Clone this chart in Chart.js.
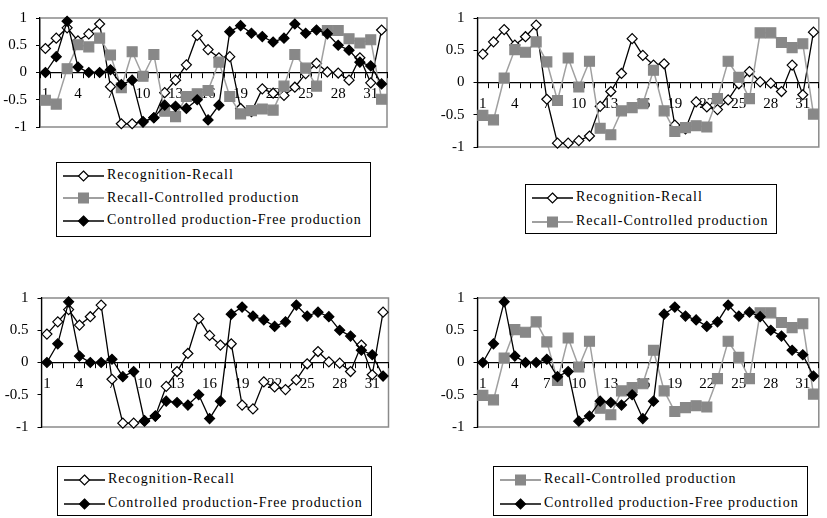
<!DOCTYPE html>
<html>
<head>
<meta charset="utf-8">
<script src="https://cdn.jsdelivr.net/npm/chart.js@4.4.0/dist/chart.umd.min.js"></script>
<style>
  body { margin: 0; background: #fff; width: 827px; height: 518px; position: relative; overflow: hidden; font-family: "Liberation Serif", "Times New Roman", serif; }
  .panel { position: absolute; }
  .legend { position: absolute; border: 1px solid #000; background: #fff; font-size: 14px; letter-spacing: 1px; padding: 0 8px 0 0; }
  .legend .row { white-space: nowrap; }
  .legend svg { vertical-align: middle; margin-right: 2px; }
</style>
</head>
<body>
<div class="panel" style="left:0;top:0;width:400px;height:145px"><canvas id="chartTL"></canvas></div>
<div class="panel" style="left:430px;top:0;width:397px;height:165px"><canvas id="chartTR"></canvas></div>
<div class="panel" style="left:0;top:280px;width:400px;height:165px"><canvas id="chartBL"></canvas></div>
<div class="panel" style="left:430px;top:280px;width:397px;height:165px"><canvas id="chartBR"></canvas></div>

<div class="legend" id="legTL" style="left:56px;top:162px;padding-top:1px;padding-bottom:4px"></div>
<div class="legend" id="legTR" style="left:525px;top:184px"></div>
<div class="legend" id="legBL" style="left:57px;top:466px"></div>
<div class="legend" id="legBR" style="left:493px;top:466px"></div>

<script>
// categories 1..32, only every third one is labelled
const categories = [
  "1", "2", "3", "4", "5", "6", "7", "8", "9", "10", "11", "12", "13", "14", "15", "16",
  "17", "18", "19", "20", "21", "22", "23", "24", "25", "26", "27", "28", "29", "30", "31", "32",
];
const yTicks = [-1, -0.5, 0, 0.5, 1];

// series values
const recogRecall = [
  0.44, 0.63, 0.82, 0.58, 0.71, 0.89, -0.26, -0.94, -0.94, -0.90, -0.83, -0.37, -0.14, 0.14, 0.68, 0.42,
  0.27, 0.29, -0.66, -0.72, -0.30, -0.38, -0.42, -0.27, -0.02, 0.17, 0.01, -0.01, -0.14, 0.27, -0.19, 0.78,
];
const recallControlled = [
  -0.51, -0.58, 0.07, 0.51, 0.47, 0.63, 0.32, -0.28, 0.38, -0.07, 0.33, -0.71, -0.81, -0.44, -0.39, -0.33,
  0.19, -0.44, -0.76, -0.70, -0.67, -0.69, -0.25, 0.33, 0.08, -0.25, 0.77, 0.77, 0.62, 0.54, 0.60, -0.49,
];
const controlledFree = [
  0.00, 0.29, 0.94, 0.10, 0.00, 0.00, 0.05, -0.22, -0.14, -0.91, -0.83, -0.60, -0.62, -0.66, -0.50, -0.87,
  -0.60, 0.75, 0.86, 0.72, 0.66, 0.56, 0.63, 0.89, 0.72, 0.78, 0.71, 0.50, 0.41, 0.19, 0.12, -0.21,
];

Chart.defaults.font.family = '"Liberation Serif", "Times New Roman", serif';
Chart.defaults.font.size = 15;
Chart.defaults.color = "#000";

// series look (used by the charts and by the html legends)
const series = {
  recog: {
    label: "Recognition-Recall", data: recogRecall, line: "#000", lineWidth: 1.3,
    style: "rectRot", radius: 5, fill: "#fff", stroke: "#000", order: 3,
  },
  recall: {
    label: "Recall-Controlled production", data: recallControlled, line: "#a0a0a0", lineWidth: 1.5,
    style: "rect", radius: 7, fill: "#888888", stroke: "#888888", order: 2,
  },
  free: {
    label: "Controlled production-Free production", data: controlledFree, line: "#000", lineWidth: 1.3,
    style: "rectRot", radius: 5, fill: "#000", stroke: "#000", order: 1,
  },
};

// gray frame round the plot area, drawn before the axes
const plotBorder = {
  id: "plotBorder",
  beforeDraw(chart) {
    const { ctx, chartArea: a } = chart;
    ctx.save();
    ctx.strokeStyle = "#8a8a8a";
    ctx.lineWidth = 1.5;
    ctx.strokeRect(a.left, a.top, a.right - a.left, a.bottom - a.top);
    ctx.restore();
  },
};

function makeChart(id, keys, yWidth, padding) {
  const datasets = keys.map((k) => {
    const s = series[k];
    return {
      label: s.label,
      data: s.data,
      borderColor: s.line,
      borderWidth: s.lineWidth,
      pointStyle: s.style,
      pointRadius: s.radius,
      pointHoverRadius: s.radius,
      pointBackgroundColor: s.fill,
      pointBorderColor: s.stroke,
      pointBorderWidth: 1.2,
      tension: 0,
      clip: false,
      order: s.order,
    };
  });

  return new Chart(document.getElementById(id), {
    type: "line",
    data: { labels: categories, datasets: datasets },
    options: {
      responsive: true,
      maintainAspectRatio: false,
      animation: false,
      layout: { padding: padding },
      plugins: { legend: { display: false }, tooltip: { enabled: false } },
      scales: {
        x: {
          type: "category",
          position: { y: 0 },
          offset: true,
          grid: { offset: true, drawOnChartArea: false, tickLength: 5, color: "#000", lineWidth: 1 },
          border: { color: "#000", width: 1.2 },
          ticks: {
            autoSkip: false,
            maxRotation: 0,
            padding: 8,
            callback: (v, i) => (i % 3 === 0 ? categories[i] : ""),
          },
        },
        y: {
          min: -1,
          max: 1,
          afterFit: (scale) => { scale.width = yWidth; },
          afterBuildTicks: (scale) => { scale.ticks = yTicks.map((v) => ({ value: v })); },
          grid: { drawOnChartArea: false, tickLength: 4, color: "#000" },
          border: { color: "#000", width: 1.2 },
          ticks: { padding: 9, callback: (v) => String(v) },
        },
      },
    },
    plugins: [plotBorder],
  });
}

makeChart("chartTL", ["recog", "recall", "free"], 40, { top: 10, right: 13, bottom: 15, left: 0 });
makeChart("chartTR", ["recog", "recall"], 47.5, { top: 10, right: 2.5, bottom: 12, left: 0 });
makeChart("chartBL", ["recog", "free"], 41.5, { top: 11.7, right: 11.5, bottom: 11.7, left: 0 });
makeChart("chartBR", ["recall", "free"], 47.5, { top: 11, right: 2.5, bottom: 11, left: 0 });

// legend sample: short line with the marker in the middle
function sample(s) {
  let mark;
  if (s.style === "rect") {
    mark = `<rect x="21.5" y="1" width="10" height="10" fill="${s.fill}" stroke="${s.stroke}"/>`;
  } else {
    mark = `<polygon points="26.5,1 31.5,6 26.5,11 21.5,6" fill="${s.fill}" stroke="${s.stroke}" stroke-width="1.2"/>`;
  }
  return `<svg width="48" height="12"><line x1="6" y1="6" x2="47" y2="6" stroke="${s.line}" stroke-width="${s.lineWidth + 0.3}"/>${mark}</svg>`;
}

function makeLegend(id, keys, rowHeight) {
  const box = document.getElementById(id);
  box.innerHTML = keys
    .map((k) => `<div class="row" style="height:${rowHeight}px;line-height:${rowHeight}px">${sample(series[k])}<span>${series[k].label}</span></div>`)
    .join("");
}

makeLegend("legTL", ["recog", "recall", "free"], 22.5);
makeLegend("legTR", ["recog", "recall"], 24);
makeLegend("legBL", ["recog", "free"], 24);
makeLegend("legBR", ["recall", "free"], 24);
</script>
</body>
</html>
